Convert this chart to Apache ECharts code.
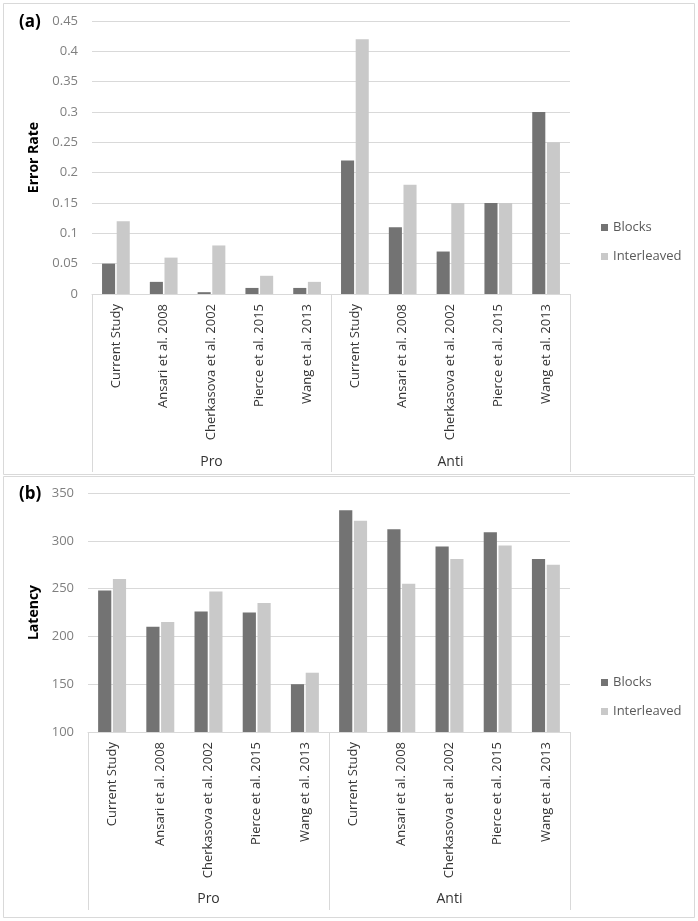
<!DOCTYPE html>
<html>
<head>
<meta charset="utf-8">
<script src="https://cdn.jsdelivr.net/npm/echarts@6/dist/echarts.min.js"></script>
<style>
html,body{margin:0;padding:0;background:#fff;}
#chart{width:698px;height:921px;}
</style>
</head>
<body>
<div id="chart"></div>
<script>
// ---- data ----
var studies = ["Current Study", "Ansari et al. 2008", "Cherkasova et al. 2002", "Pierce et al. 2015", "Wang et al. 2013"];
var groups = ["Pro", "Anti"];
var seriesNames = ["Blocks", "Interleaved"];

// Panel (a) Error Rate: Pro (5 studies) then Anti (5 studies)
var errorBlocks      = [0.05, 0.02, 0.003, 0.01, 0.01, 0.22, 0.11, 0.07, 0.15, 0.30];
var errorInterleaved = [0.12, 0.06, 0.08, 0.03, 0.02, 0.42, 0.18, 0.15, 0.15, 0.25];

// Panel (b) Latency
var latencyBlocks      = [248, 210, 226, 225, 150, 332, 312, 294, 309, 281];
var latencyInterleaved = [260, 215, 247, 235, 162, 321, 255, 281, 295, 275];

// y ticks
var errorTicks = {min: 0, max: 0.45, interval: 0.05};
var latencyTicks = {min: 100, max: 350, interval: 50};

// ---- build ----
var cats = [];
groups.forEach(function (g) { studies.forEach(function (s) { cats.push(s); }); });

var FONT = "Open Sans";
var colBlocks = "#737373", colInter = "#c9c9c9";
var gridLine = "#d9d9d9";

function xAxes(gridIndex, margin) {
  return [
    {
      type: "category", gridIndex: gridIndex, data: cats, position: "bottom",
      axisLine: {lineStyle: {color: gridLine}},
      axisTick: {show: false},
      axisLabel: {rotate: 90, margin: 10, fontFamily: FONT, fontSize: 13, color: "#333333", interval: 0}
    },
    {
      type: "category", gridIndex: gridIndex, data: groups, position: "bottom",
      axisLine: {show: false},
      axisTick: {show: true, length: 178, lineStyle: {color: gridLine}},
      axisLabel: {margin: margin, fontFamily: FONT, fontSize: 14, color: "#333333"},
      splitLine: {show: false}
    }
  ];
}

function yAxis(gridIndex, ticks, name, gap) {
  return {
    type: "value", gridIndex: gridIndex, min: ticks.min, max: ticks.max, interval: ticks.interval,
    name: name, nameLocation: "middle", nameGap: gap,
    nameTextStyle: {fontFamily: FONT, fontSize: 14, fontWeight: "bold", color: "#000"},
    axisLine: {show: false}, axisTick: {show: false},
    axisLabel: {margin: 14, fontFamily: FONT, fontSize: 13, color: "#7f7f7f"},
    splitLine: {lineStyle: {color: gridLine}}
  };
}

function barSeries(name, data, color, xi, yi) {
  return {
    type: "bar", name: name, data: data, xAxisIndex: xi, yAxisIndex: yi,
    itemStyle: {color: color},
    barGap: "12%", barCategoryGap: "42%"
  };
}

var option = {
  animation: false,
  backgroundColor: "#fff",
  textStyle: {fontFamily: FONT},
  title: [
    {text: "(a)", left: 14, top: 9, textStyle: {fontFamily: FONT, fontSize: 17, fontWeight: "bold", color: "#000"}},
    {text: "(b)", left: 14, top: 481, textStyle: {fontFamily: FONT, fontSize: 17, fontWeight: "bold", color: "#000"}}
  ],
  legend: [
    {data: seriesNames, orient: "vertical", left: 596, top: 216, itemWidth: 7, itemHeight: 7, itemGap: 16,
     icon: "rect", textStyle: {fontFamily: FONT, fontSize: 13, color: "#595959"}},
    {data: seriesNames, orient: "vertical", left: 596, top: 671, itemWidth: 7, itemHeight: 7, itemGap: 16,
     icon: "rect", textStyle: {fontFamily: FONT, fontSize: 13, color: "#595959"}}
  ],
  grid: [
    {left: 92, right: 128, top: 21, bottom: 627},
    {left: 88, right: 128, top: 493, bottom: 189}
  ],
  xAxis: xAxes(0, 161).concat(xAxes(1, 160)),
  yAxis: [
    yAxis(0, errorTicks, "Error Rate", 48),
    yAxis(1, latencyTicks, "Latency", 44)
  ],
  series: [
    barSeries("Blocks", errorBlocks, colBlocks, 0, 0),
    barSeries("Interleaved", errorInterleaved, colInter, 0, 0),
    barSeries("Blocks", latencyBlocks, colBlocks, 2, 1),
    barSeries("Interleaved", latencyInterleaved, colInter, 2, 1)
  ],
  graphic: [
    {type: "rect", silent: true, z: -1, shape: {x: 3.5, y: 3.5, width: 691, height: 471},
     style: {fill: "none", stroke: "#d9d9d9", lineWidth: 1}},
    {type: "rect", silent: true, z: -1, shape: {x: 3.5, y: 476.5, width: 691, height: 441},
     style: {fill: "none", stroke: "#d9d9d9", lineWidth: 1}}
  ]
};

var chart = echarts.init(document.getElementById("chart"), null, {renderer: "canvas"});
chart.setOption(option);
</script>
</body>
</html>
